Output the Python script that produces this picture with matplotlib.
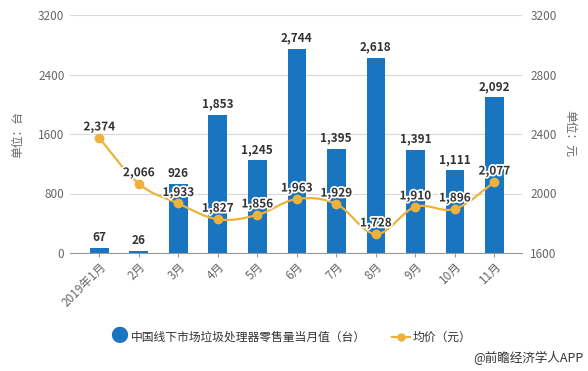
import numpy as np
import matplotlib
matplotlib.use("Agg")
import matplotlib.pyplot as plt
import matplotlib.patheffects as pe
from matplotlib.path import Path
from matplotlib.patches import PathPatch

plt.rcParams['font.family'] = ['Noto Sans CJK SC', 'DejaVu Sans']

# data
months = ['2019年1月', '2月', '3月', '4月', '5月', '6月', '7月', '8月', '9月', '10月', '11月']
sales = [67, 26, 926, 1853, 1245, 2744, 1395, 2618, 1391, 1111, 2092]
price = [2374, 2066, 1933, 1827, 1856, 1963, 1929, 1728, 1910, 1896, 2077]

bar_color = '#1a75c1'
line_color = '#eeb23a'
text_color = '#333333'
tick_color = '#666666'

fig = plt.figure(figsize=(5.88, 3.71), dpi=100)
ax1 = fig.add_axes([70/588, 1-253/371, (522-70)/588, (253-15)/371])
ax2 = ax1.twinx()

x = np.arange(len(months))
ax1.bar(x, sales, width=0.47, color=bar_color, zorder=2)
ax1.set_ylim(0, 3200)
ax1.set_yticks([0, 800, 1600, 2400, 3200])
ax1.set_xlim(-0.74, 10.7)
ax1.set_xticks(x)
ax1.set_xticklabels(months, rotation=45, ha='right', rotation_mode='anchor')
ax1.grid(axis='y', color='#d9d9d9', lw=0.8, zorder=0)
ax1.set_axisbelow(True)

for s in ['top', 'right', 'left']:
    ax1.spines[s].set_visible(False)
    ax2.spines[s].set_visible(False)
ax2.spines['bottom'].set_visible(False)
ax1.spines['bottom'].set_color('#999999')

ax1.tick_params(axis='y', length=0, labelsize=8.5, labelcolor=tick_color, pad=4)
ax1.tick_params(axis='x', length=3, color='#999999', labelsize=8.5, labelcolor=tick_color, pad=2)
ax2.set_ylim(1600, 3200)
ax2.set_yticks([1600, 2000, 2400, 2800, 3200])
ax2.tick_params(axis='y', length=0, labelsize=8.5, labelcolor=tick_color, pad=6)

ax1.set_ylabel('单位：台', fontsize=8.5, color=tick_color, labelpad=10)
ax2.set_ylabel('单位：元', fontsize=8.5, color=tick_color, rotation=270, labelpad=14)

# smooth line through the price points (Catmull-Rom as Bezier segments)
px = x.astype(float)
py = np.array(price, dtype=float)
verts = [(px[0], py[0])]
codes = [Path.MOVETO]
t = 0.18
for i in range(len(px) - 1):
    p0 = (px[max(i-1, 0)], py[max(i-1, 0)])
    p1 = (px[i], py[i])
    p2 = (px[i+1], py[i+1])
    p3 = (px[min(i+2, len(px)-1)], py[min(i+2, len(px)-1)])
    c1 = (p1[0] + (p2[0]-p0[0])*t, p1[1] + (p2[1]-p0[1])*t)
    c2 = (p2[0] - (p3[0]-p1[0])*t, p2[1] - (p3[1]-p1[1])*t)
    verts += [c1, c2, p2]
    codes += [Path.CURVE4]*3
ax2.add_patch(PathPatch(Path(verts, codes), fill=False, edgecolor=line_color, lw=1.6, zorder=3))
ax2.plot(px, py, 'o', color=line_color, ms=6, zorder=4)

for xi, v in zip(x, sales):
    ax1.text(xi, v + 60, f'{v:,}', ha='center', va='bottom', fontsize=8.5,
             fontweight='bold', color=text_color)

outline = [pe.withStroke(linewidth=2.5, foreground='white')]
for xi, v in zip(x, price):
    ax2.text(xi, v + 30, f'{v:,}', ha='center', va='bottom', fontsize=8.5,
             fontweight='bold', color=text_color, path_effects=outline, zorder=5)

# legend
ly = 1 - 337/371
fig.text(119/588, ly, '●', fontsize=13, color=bar_color, ha='center', va='center')
fig.text(131/588, ly, '中国线下市场垃圾处理器零售量当月值（台）', fontsize=8.5,
         color=text_color, ha='left', va='center')
fig.add_artist(plt.Line2D([392/588, 410/588], [ly]*2, color=line_color, lw=1.6))
fig.add_artist(plt.Line2D([401/588], [ly], marker='o', ms=5, color=line_color))
fig.text(413/588, ly, '均价（元）', fontsize=8.5, color=text_color, ha='left', va='center')

fig.text(583/588, 1-358/371, '@前瞻经济学人APP', fontsize=9, color=text_color, ha='right', va='center')

fig.savefig('out.png', dpi=100)
